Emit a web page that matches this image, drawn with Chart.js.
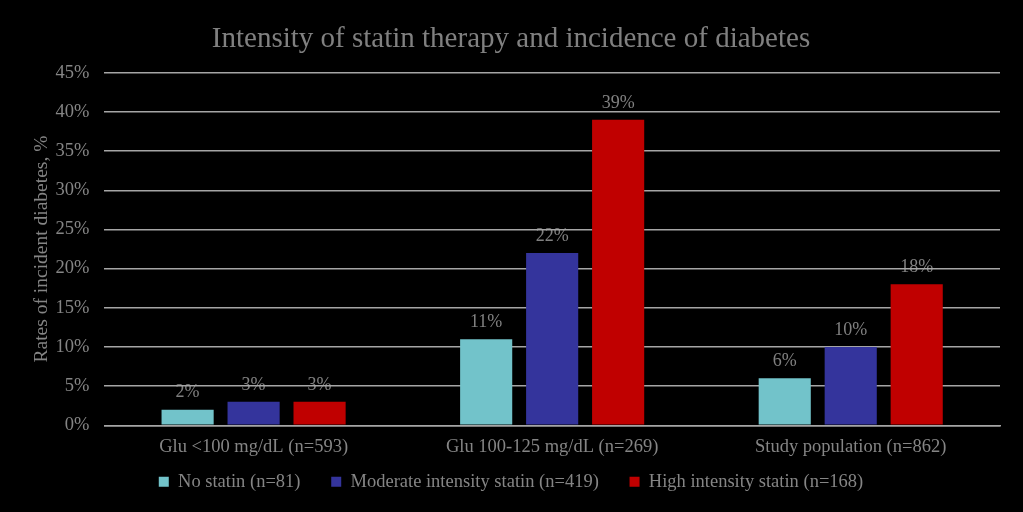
<!DOCTYPE html>
<html>
<head>
<meta charset="utf-8">
<script src="https://cdn.jsdelivr.net/npm/chart.js@4/dist/chart.umd.min.js"></script>
<style>
html,body{margin:0;padding:0;background:#000;}
#wrap{width:1023px;height:512px;position:relative;}
</style>
</head>
<body>
<div id="wrap"><canvas id="c" width="1023" height="512"></canvas></div>
<script>
const categories = ["Glu <100 mg/dL (n=593)", "Glu 100-125 mg/dL (n=269)", "Study population (n=862)"];
const seriesNames = ["No statin (n=81)", "Moderate intensity statin (n=419)", "High intensity statin (n=168)"];
const noStatin = [2, 11, 6];
const moderateStatin = [3, 22, 10];
const highStatin = [3, 39, 18];
const yTicks = [0, 5, 10, 15, 20, 25, 30, 35, 40, 45];

const FONT = "'Liberation Serif', 'Times New Roman', serif";
const GREY = '#858585';

// value labels drawn before the grid so gridlines pass over them (as in the reference)
const valueLabels = {
  id: 'valueLabels',
  beforeDraw(chart) {
    const ctx = chart.ctx;
    ctx.save();
    ctx.font = '18px ' + FONT;
    ctx.fillStyle = '#808080';
    ctx.textAlign = 'center';
    ctx.textBaseline = 'middle';
    chart.data.datasets.forEach((ds, i) => {
      const meta = chart.getDatasetMeta(i);
      meta.data.forEach((bar, j) => {
        ctx.fillText(ds.data[j] + '%', bar.x, bar.y - 17);
      });
    });
    ctx.restore();
  }
};

new Chart(document.getElementById('c'), {
  type: 'bar',
  data: {
    labels: categories,
    datasets: [
      {label: seriesNames[0], data: noStatin, backgroundColor: '#72c3ca'},
      {label: seriesNames[1], data: moderateStatin, backgroundColor: '#34349c'},
      {label: seriesNames[2], data: highStatin, backgroundColor: '#c00000'}
    ]
  },
  options: {
    responsive: false,
    animation: false,
    devicePixelRatio: 1,
    categoryPercentage: 0.663,
    barPercentage: 0.79,
    layout: {padding: {left: 22, right: 23, top: 10, bottom: 11}},
    plugins: {
      title: {
        display: true,
        text: 'Intensity of statin therapy and incidence of diabetes',
        color: '#808080',
        font: {family: FONT, size: 29, weight: 'normal'},
        padding: {top: 12, bottom: 16}
      },
      legend: {
        position: 'bottom',
        labels: {
          color: GREY,
          font: {family: FONT, size: 18.5},
          boxWidth: 10,
          boxHeight: 10,
          padding: 3,
          generateLabels(chart) {
            const items = Chart.defaults.plugins.legend.labels.generateLabels(chart);
            items.forEach((it, i) => { if (i < items.length - 1) it.text = it.text + '\u2003\u2002'; });
            return items;
          }
        }
      },
      tooltip: {enabled: false}
    },
    scales: {
      x: {
        grid: {display: false, drawTicks: false},
        border: {color: '#a6a6a6', width: 1.5},
        ticks: {color: GREY, font: {family: FONT, size: 18.5}, padding: 11}
      },
      y: {
        min: 0, max: 45,
        afterBuildTicks(axis) { axis.ticks = yTicks.map(v => ({value: v})); },
        grid: {color: '#a6a6a6', lineWidth: 1.5, drawTicks: false},
        border: {display: false},
        ticks: {color: GREY, font: {family: FONT, size: 18.5}, padding: 15, callback: v => v + '%'},
        title: {display: true, text: 'Rates of incident diabetes, %', color: GREY, font: {family: FONT, size: 19.5}, padding: {top: 8, bottom: -13}}
      }
    }
  },
  plugins: [valueLabels]
});
</script>
</body>
</html>
